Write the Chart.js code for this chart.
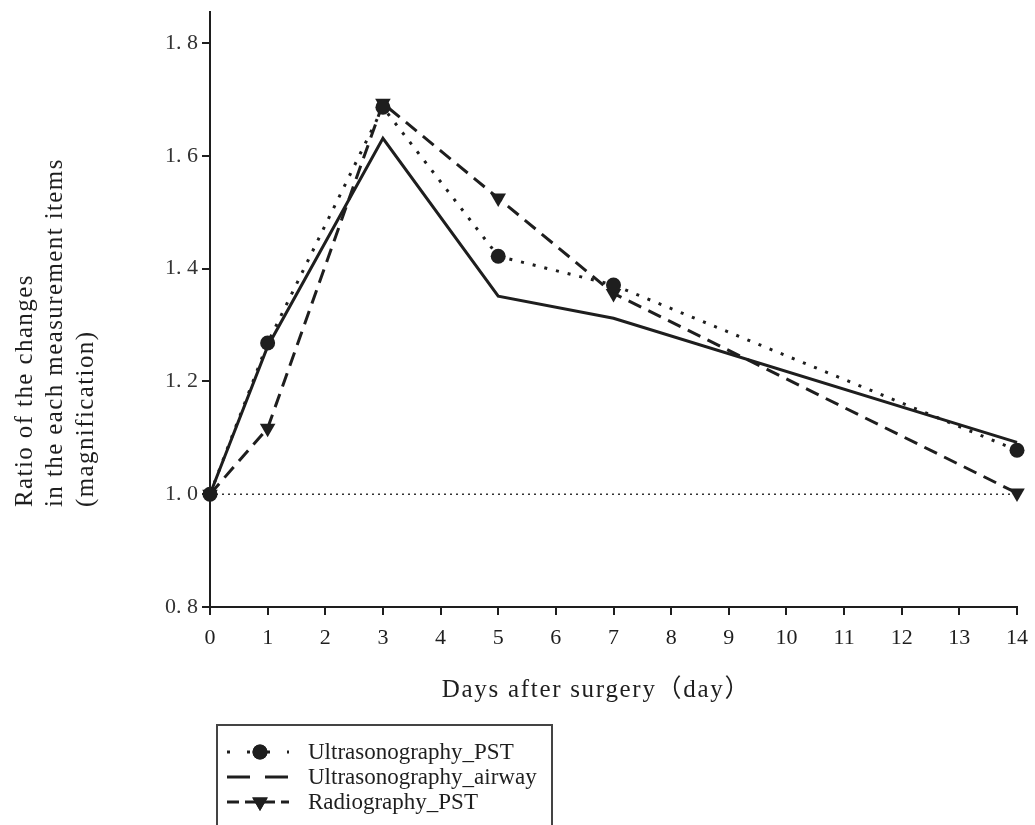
<!DOCTYPE html>
<html>
<head>
<meta charset="utf-8">
<script src="https://cdn.jsdelivr.net/npm/chart.js@4"></script>
<style>
  html, body { margin: 0; padding: 0; background: #fff; }
  #wrap { width: 1035px; height: 825px; position: relative; }
</style>
</head>
<body>
<div id="wrap"><canvas id="grafico"></canvas></div>
<script>
// dados
const dias = [0, 1, 3, 5, 7, 14];
const usPst = [1.0, 1.268, 1.686, 1.422, 1.371, 1.078];
const usAirway = [1.0, 1.262, 1.631, 1.351, 1.312, 1.092];
const rgPst = [1.0, 1.117, 1.693, 1.525, 1.356, 1.002];
const nomes = ['Ultrasonography_PST', 'Ultrasonography_airway', 'Radiography_PST'];
const xTicks = [0, 1, 2, 3, 4, 5, 6, 7, 8, 9, 10, 11, 12, 13, 14];
const yTicks = [0.8, 1.0, 1.2, 1.4, 1.6, 1.8];
const linhaBase = 1.0;
const xTitulo = 'Days after surgery（day）';
const yTitulo = ['Ratio of the changes', 'in the each measurement items', '(magnification)'];

const cor = '#1e1e1e';
const fonteSerif = '"Liberation Serif", "Times New Roman", serif';

function pontos(vals) {
  return dias.map((d, i) => ({ x: d, y: vals[i] }));
}

// titulos dos eixos (com espaçamento entre letras)
const titulos = {
  id: 'titulos',
  afterDraw(chart) {
    const ctx = chart.ctx;
    const area = chart.chartArea;
    ctx.save();
    ctx.fillStyle = cor;
    ctx.font = '25px ' + fonteSerif + ', "Noto Sans CJK SC"';
    ctx.letterSpacing = '1.7px';
    ctx.textAlign = 'center';
    ctx.textBaseline = 'middle';
    ctx.fillText(xTitulo, (area.left + area.right) / 2 - 17, area.bottom + 83);
    ctx.letterSpacing = '1.4px';
    ctx.textAlign = 'left';
    yTitulo.forEach((t, i) => {
      ctx.save();
      ctx.translate(25 + i * 30.5, 507);
      ctx.rotate(-Math.PI / 2);
      ctx.fillText(t, 0, 0);
      ctx.restore();
    });
    ctx.restore();
  }
};

// legenda desenhada à mão (caixa cortada embaixo como no original)
const legenda = {
  id: 'legenda',
  afterDraw(chart) {
    const ctx = chart.ctx;
    const x0 = 217, y0 = 725;
    ctx.save();
    ctx.strokeStyle = '#444';
    ctx.lineWidth = 2;
    ctx.strokeRect(x0, y0, 335, 130);
    chart.data.datasets.forEach(ds => {
      if (ds.legendRow === undefined) return;
      const y = 752 + ds.legendRow * 25;
      ctx.strokeStyle = cor;
      ctx.lineWidth = 3;
      ctx.setLineDash(ds.legendDash);
      ctx.beginPath();
      ctx.moveTo(227, y);
      ctx.lineTo(289, y);
      ctx.stroke();
      ctx.setLineDash([]);
      if (ds.pointRadius > 0) {
        ctx.fillStyle = cor;
        Chart.helpers.drawPoint(ctx, {
          pointStyle: ds.pointStyle,
          rotation: ds.pointRotation || 0,
          radius: ds.pointRadius,
          borderWidth: 0
        }, 260, y);
        ctx.fill();
      }
      ctx.fillStyle = cor;
      ctx.font = '23px ' + fonteSerif;
      ctx.textAlign = 'left';
      ctx.textBaseline = 'middle';
      ctx.fillText(ds.label, 308, y + 1);
    });
    ctx.restore();
  }
};

new Chart(document.getElementById('grafico'), {
  type: 'line',
  data: {
    datasets: [
      {
        label: nomes[0],
        data: pontos(usPst),
        borderColor: cor,
        backgroundColor: cor,
        borderWidth: 3,
        borderDash: [3, 9],
        pointStyle: 'circle',
        pointRadius: 7.5,
        pointBorderWidth: 0,
        legendRow: 0,
        legendDash: [3, 17],
        clip: false
      },
      {
        label: nomes[1],
        data: pontos(usAirway),
        borderColor: cor,
        backgroundColor: cor,
        borderWidth: 3,
        pointRadius: 0,
        legendRow: 1,
        legendDash: [23, 15],
        clip: false
      },
      {
        label: nomes[2],
        data: pontos(rgPst),
        borderColor: cor,
        backgroundColor: cor,
        borderWidth: 3,
        borderDash: [14, 8],
        pointStyle: 'triangle',
        pointRotation: 180,
        pointRadius: 9,
        pointBorderWidth: 0,
        legendRow: 2,
        legendDash: [12, 6],
        clip: false
      },
      {
        label: 'base',
        data: [{ x: xTicks[0], y: linhaBase }, { x: xTicks[xTicks.length - 1], y: linhaBase }],
        borderColor: '#333',
        borderWidth: 1.5,
        borderDash: [2, 4],
        pointRadius: 0,
        clip: false
      }
    ]
  },
  options: {
    responsive: true,
    maintainAspectRatio: false,
    animation: false,
    layout: { padding: { top: 12, right: 18, bottom: 0, left: 0 } },
    plugins: {
      legend: { display: false },
      tooltip: { enabled: false }
    },
    scales: {
      x: {
        type: 'linear',
        min: 0,
        max: 14,
        afterBuildTicks: s => { s.ticks = xTicks.map(v => ({ value: v })); },
        afterFit: s => { s.height = 218; s.paddingLeft = 0; s.paddingRight = 0; },
        grid: { drawOnChartArea: false, drawTicks: true, tickLength: 8, color: cor, lineWidth: 2 },
        border: { display: true, color: cor, width: 2 },
        ticks: {
          color: cor,
          padding: 10,
          maxRotation: 0,
          autoSkip: false,
          font: { family: fonteSerif, size: 22 },
          callback: v => String(v)
        }
      },
      y: {
        type: 'linear',
        min: 0.8,
        max: 1.855,
        afterBuildTicks: s => { s.ticks = yTicks.map(v => ({ value: v })); },
        afterFit: s => { s.width = 210; s.paddingTop = 0; s.paddingBottom = 0; },
        grid: { drawOnChartArea: false, drawTicks: true, tickLength: 8, color: cor, lineWidth: 2 },
        border: { display: true, color: cor, width: 2 },
        ticks: {
          color: '#333',
          padding: 4,
          font: { family: fonteSerif, size: 22 },
          callback: v => v.toFixed(1).replace('.', '. ')
        }
      }
    }
  },
  plugins: [titulos, legenda]
});
</script>
</body>
</html>
